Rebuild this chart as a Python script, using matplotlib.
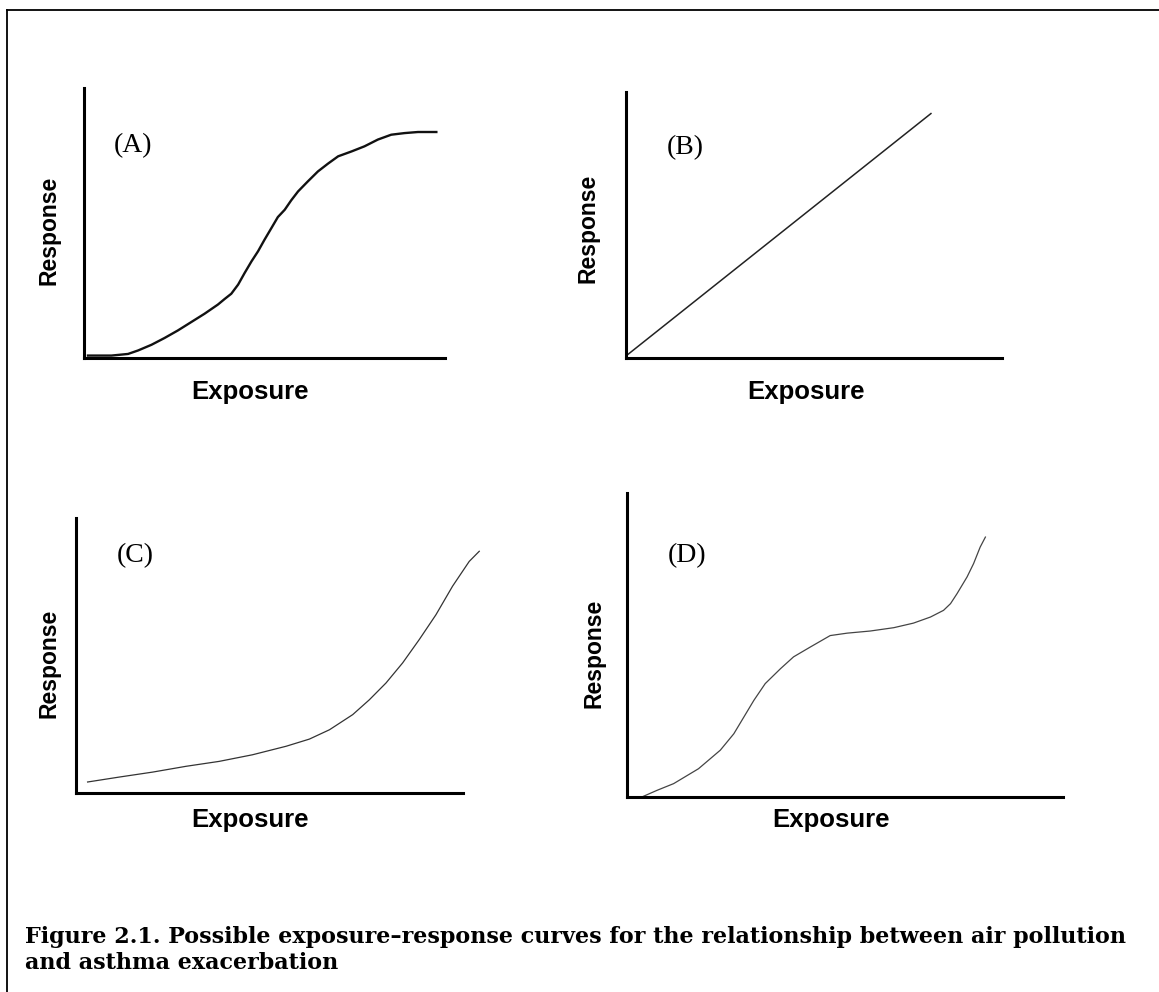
import matplotlib
matplotlib.use('Agg')
import matplotlib.pyplot as plt
from matplotlib.lines import Line2D

W, H = 1159, 992

# curves, as % of each axis length
a_exposure = [1.1, 7.6, 12.2, 15.0, 18.7, 22.3, 26.0, 29.7, 33.4, 37.1, 39.0,
              40.8, 42.7, 44.5, 46.4, 48.2, 50.0, 51.9, 53.7, 55.6, 57.4, 59.3,
              62.0, 64.8, 67.6, 70.4, 74.1, 77.7, 81.4, 85.1, 88.8, 92.5, 97.6]
a_response = [0.9, 0.9, 1.5, 2.8, 4.9, 7.4, 10.2, 13.3, 16.4, 19.8, 21.9,
              23.8, 27.2, 31.5, 35.8, 39.5, 43.8, 48.1, 52.2, 54.9, 58.4, 61.7,
              65.4, 69.1, 72.0, 74.7, 76.5, 78.4, 80.9, 82.7, 83.3, 83.7, 83.7]

b_exposure = [0.2, 81.1]
b_response = [1.0, 91.9]

c_exposure = [3.0, 11.2, 19.8, 28.4, 37.0, 45.6, 54.3, 60.3, 65.5, 71.5, 75.8,
              80.1, 84.4, 88.7, 93.0, 97.3, 101.6, 104.2]
c_response = [4.0, 5.8, 7.6, 9.7, 11.5, 13.9, 17.0, 19.6, 23.0, 28.5, 33.9,
              40.0, 47.3, 55.8, 64.8, 75.2, 84.2, 87.9]

d_exposure = [3.4, 6.9, 10.7, 16.4, 21.4, 24.5, 26.8, 29.1, 31.7, 35.2, 38.2,
              42.0, 46.6, 50.5, 55.8, 61.2, 65.7, 69.6, 72.6, 74.2, 75.7, 78.0,
              79.5, 81.0, 82.2]
d_response = [0.0, 2.2, 4.4, 9.3, 15.4, 20.8, 26.3, 31.8, 37.3, 42.2, 46.1,
              49.3, 53.1, 53.9, 54.6, 55.7, 57.2, 59.2, 61.4, 63.6, 66.9, 72.4,
              76.8, 82.2, 85.5]

panel_labels = ['(A)', '(B)', '(C)', '(D)']
x_title = 'Exposure'
y_title = 'Response'
caption = ('Figure 2.1. Possible exposure\u2013response curves for the relationship between air pollution\n'
           'and asthma exacerbation')

fig = plt.figure(figsize=(W / 100, H / 100), dpi=100)

# frame (top and left only)
fig.add_artist(Line2D([7 / W, 1.0], [1 - 10 / H, 1 - 10 / H], color='black', lw=1.3))
fig.add_artist(Line2D([7 / W, 7 / W], [0.0, 1 - 10 / H], color='black', lw=1.3))


def px(x, y):
    return x / W, 1 - y / H


# (left, top, right, bottom) of each panel in pixels
boxes = [(84, 88, 445, 358), (626, 92, 1002, 358), (76, 518, 463, 793), (627, 493, 1063, 797)]
curves = [(a_exposure, a_response, 1.7, '#111111'),
          (b_exposure, b_response, 1.1, '#222222'),
          (c_exposure, c_response, 0.9, '#333333'),
          (d_exposure, d_response, 0.9, '#444444')]
label_pos = [(133, 146), (685, 148), (135, 556), (687, 556)]
ytitle_pos = [(49, 230), (588, 228), (49, 663), (594, 653)]
xtitle_pos = [(250, 392), (806, 392), (250, 820), (831, 820)]

for i, (l, t, r, b) in enumerate(boxes):
    ax = fig.add_axes([l / W, 1 - b / H, (r - l) / W, (b - t) / H])
    xs, ys, lw, col = curves[i]
    ax.plot(xs, ys, color=col, lw=lw, clip_on=False, solid_joinstyle='round')
    ax.set_xlim(0, 100)
    ax.set_ylim(0, 100)
    for s in ['top', 'right']:
        ax.spines[s].set_visible(False)
    for s in ['left', 'bottom']:
        ax.spines[s].set_linewidth(2.2)
    ax.set_xticks([])
    ax.set_yticks([])
    ax.patch.set_alpha(0)

    fig.text(*px(*label_pos[i]), panel_labels[i], ha='center', va='center',
             family='Liberation Serif', fontsize=20)
    fig.text(*px(*ytitle_pos[i]), y_title, ha='center', va='center', rotation=90,
             family='Liberation Sans', fontweight='bold', fontsize=16.5)
    fig.text(*px(*xtitle_pos[i]), x_title, ha='center', va='center',
             family='Liberation Sans', fontweight='bold', fontsize=18.5)

fig.text(*px(25, 950), caption, ha='left', va='center', family='DejaVu Serif',
         fontweight='bold', fontsize=16, linespacing=1.2)

fig.savefig('out.png', dpi=100)
